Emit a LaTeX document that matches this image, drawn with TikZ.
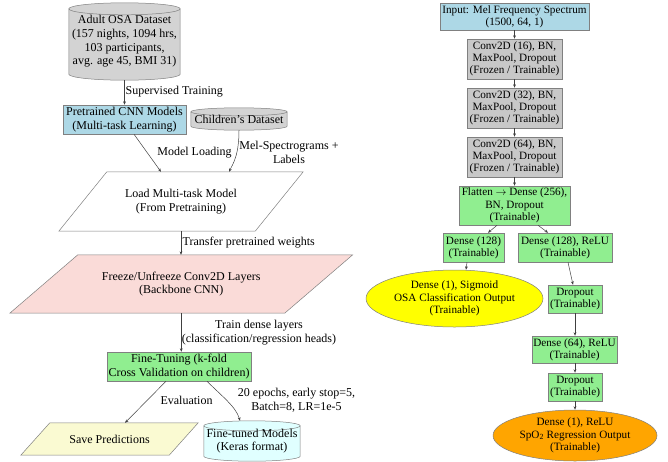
\documentclass[tikz,border=0pt]{standalone}
\usepackage{fontspec}
\setmainfont{Liberation Serif}
\usetikzlibrary{arrows.meta,calc,shapes.geometric}
\pgfdeclarelayer{background}
\pgfsetlayers{background,main}
\definecolor{lblue}{HTML}{ADD8E6}
\definecolor{cylgray}{HTML}{D3D3D3}
\definecolor{convgray}{HTML}{C8C8C8}
\definecolor{lgreen}{HTML}{90EE90}
\definecolor{lpink}{HTML}{FADBD8}
\definecolor{lyell}{HTML}{FAFAD2}
\definecolor{lcyan}{HTML}{E0FFFF}
\definecolor{yel}{HTML}{FFFF00}
\definecolor{orng}{HTML}{FFA500}
\definecolor{bordergray}{HTML}{808080}
\definecolor{edgegray}{HTML}{404040}
\tikzset{
  lf/.style={font=\fontsize{12}{13.7}\selectfont},
  rf/.style={font=\fontsize{11.2}{12.3}\selectfont},
  box/.style={draw=bordergray, line width=0.5pt, inner sep=0pt, align=center},
  hold/.style={inner sep=0pt, align=center},
  shapeline/.style={draw=bordergray, line width=0.5pt},
  conn/.style={draw=edgegray, line width=0.5pt, -{Stealth[length=3.5pt,width=2.8pt]}},
  lab/.style={lf, inner sep=0pt, align=center},
}
\newcommand\cylback[3]{%
  \begin{pgfonlayer}{background}
  \path[shapeline, fill=#3] let \p1=(#1.north west), \p2=(#1.south east), \n1={(\x2-\x1)/2} in
    (\x1,\y1-#2) -- (\x1,\y2+#2) arc[start angle=180, end angle=360, x radius=\n1, y radius=#2]
    -- (\x2,\y1-#2) arc[start angle=0, end angle=180, x radius=\n1, y radius=#2] -- cycle;
  \path[shapeline] let \p1=(#1.north west), \p2=(#1.south east), \n1={(\x2-\x1)/2} in
    (\x1,\y1-#2) arc[start angle=180, end angle=360, x radius=\n1, y radius=#2];
  \end{pgfonlayer}}
\newcommand\paraback[3]{%
  \begin{pgfonlayer}{background}
  \path[shapeline, fill=#3] ([xshift=#2]#1.north west) -- ([xshift=#2]#1.north east)
    -- ([xshift=-#2]#1.south east) -- ([xshift=-#2]#1.south west) -- cycle;
  \end{pgfonlayer}}
\begin{document}
\begin{tikzpicture}[x=1pt,y=-1pt]
\useasboundingbox (0,0) rectangle (668,461);
% ---------------- left graph ----------------
\node[hold,lf,minimum width=111pt,minimum height=77pt] (adult) at (124.5,41.5)
  {Adult OSA Dataset\\(157 nights, 1094 hrs,\\103 participants,\\avg. age 45, BMI 31)};
\cylback{adult}{6pt}{cylgray}
\node[box,lf,fill=lblue,minimum width=123pt,minimum height=29pt] (pre) at (124.5,119.5)
  {Pretrained CNN Models\\(Multi-task Learning)};
\node[hold,lf,minimum width=96pt,minimum height=22pt] (children) at (239,119)
  {Children’s Dataset};
\cylback{children}{4pt}{cylgray}
\node[hold,lf,minimum width=196pt,minimum height=59pt] (load) at (181,201.5)
  {Load Multi-task Model\\(From Pretraining)};
\paraback{load}{24pt}{white}
\node[hold,lf,minimum width=274.5pt,minimum height=58pt] (freeze) at (181.25,284)
  {Freeze/Unfreeze Conv2D Layers\\(Backbone CNN)};
\paraback{freeze}{34pt}{lpink}
\node[box,lf,fill=lgreen,minimum width=144pt,minimum height=29pt] (fine) at (179,366.5)
  {Fine-Tuning (k-fold\\Cross Validation on children)};
\node[hold,lf,minimum width=148pt,minimum height=32pt] (save) at (109.5,439)
  {Save Predictions};
\paraback{save}{14.5pt}{lyell}
\node[hold,lf,minimum width=96pt,minimum height=40pt] (tuned) at (252,441)
  {Fine-tuned Models\\(Keras format)};
\cylback{tuned}{5pt}{lcyan}

\draw[conn] (adult) -- (pre);
\node[lab,anchor=west] (lsup) at (125.5,92) {Supervised Training};
\draw[conn] ([xshift=9.5pt]pre.south) -- ([xshift=-20pt]load.north);
\node[lab] (lload) at (194.5,153) {Model Loading};
\draw[conn] (children.south) .. controls ($(children.south)+(0,25)$) and ($(load.north)+(52,-8)$) .. ([xshift=48pt]load.north);
\node[lab] (lmel) at (289,152.5) {Mel-Spectrograms +\\Labels};
\draw[conn] (load.south) -- (load.south |- freeze.north);
\node[lab,anchor=west] (ltrans) at (182.5,243) {Transfer pretrained weights};
\draw[conn] (freeze.south) -- (freeze.south |- fine.north);
\node[lab] (ltrain) at (259,332.5) {Train dense layers\\(classification/regression heads)};
\draw[conn] ([xshift=-13pt]fine.south) -- ([xshift=15.5pt]save.north);
\node[lab] (leval) at (186.5,400) {Evaluation};
\draw[conn] ([xshift=28pt]fine.south) .. controls ($(fine.south)+(43,15)$) and ($(tuned.north)+(-16,-14)$) .. ([xshift=-12pt]tuned.north);
\node[lab] (lep) at (296.5,400) {20 epochs, early stop=5,\\Batch=8, LR=1e-5};

% ---------------- right graph ----------------
\node[box,rf,fill=lblue,minimum width=149pt,minimum height=27pt] (input) at (514.5,16.5)
  {Input: Mel Frequency Spectrum\\(1500, 64, 1)};
\node[box,rf,fill=convgray,minimum width=95pt,minimum height=40pt] (c16) at (514.5,59)
  {Conv2D (16), BN,\\MaxPool, Dropout\\(Frozen / Trainable)};
\node[box,rf,fill=convgray,minimum width=95pt,minimum height=40pt] (c32) at (514.5,108)
  {Conv2D (32), BN,\\MaxPool, Dropout\\(Frozen / Trainable)};
\node[box,rf,fill=convgray,minimum width=95pt,minimum height=40pt] (c64) at (514.5,157)
  {Conv2D (64), BN,\\MaxPool, Dropout\\(Frozen / Trainable)};
\node[box,rf,fill=lgreen,minimum width=111pt,minimum height=39pt] (flat) at (514.5,205.5)
  {Flatten $\rightarrow$ Dense (256),\\BN, Dropout\\(Trainable)};
\node[box,rf,fill=lgreen,minimum width=61pt,minimum height=29pt] (d128a) at (473.5,247.5)
  {Dense (128)\\(Trainable)};
\node[box,rf,fill=lgreen,minimum width=94pt,minimum height=29pt] (d128b) at (565,247.5)
  {Dense (128), ReLU\\(Trainable)};
\node[ellipse,draw=bordergray,line width=0.5pt,fill=yel,inner sep=0pt,minimum width=177pt,minimum height=57pt] (clsout) at (454.5,298.5) {};
\node[hold,rf] (clstext) at (clsout.center) {Dense (1), Sigmoid\\OSA Classification Output\\(Trainable)};
\node[box,rf,fill=lgreen,minimum width=54pt,minimum height=28pt] (drop1) at (575,299)
  {Dropout\\(Trainable)};
\node[box,rf,fill=lgreen,minimum width=85pt,minimum height=27pt] (d64) at (574.5,349.5)
  {Dense (64), ReLU\\(Trainable)};
\node[box,rf,fill=lgreen,minimum width=54pt,minimum height=28pt] (drop2) at (575,387)
  {Dropout\\(Trainable)};
\node[ellipse,draw=bordergray,line width=0.5pt,fill=orng,inner sep=0pt,minimum width=164pt,minimum height=51pt] (regout) at (575,435.5) {};
\node[hold,rf] (regtext) at (regout.center) {Dense (1), ReLU\\SpO\textsubscript{2} Regression Output\\(Trainable)};

\draw[conn] (input) -- (c16);
\draw[conn] (c16) -- (c32);
\draw[conn] (c32) -- (c64);
\draw[conn] (c64) -- (flat);
\draw[conn] ([xshift=-17.5pt]flat.south) -- ([xshift=14.5pt]d128a.north);
\draw[conn] ([xshift=23.5pt]flat.south) -- ([xshift=-17pt]d128b.north);
\draw[conn] ([xshift=-6.5pt]d128a.south) -- ([xshift=11.5pt]clsout.north);
\draw[conn] ([xshift=3pt]d128b.south) -- ([xshift=-2pt]drop1.north);
\draw[conn] (drop1.south) -- (drop1.south |- d64.north);
\draw[conn] (d64.south -| drop2.north) -- (drop2.north);
\draw[conn] (drop2) -- (regout);
\end{tikzpicture}
\end{document}
